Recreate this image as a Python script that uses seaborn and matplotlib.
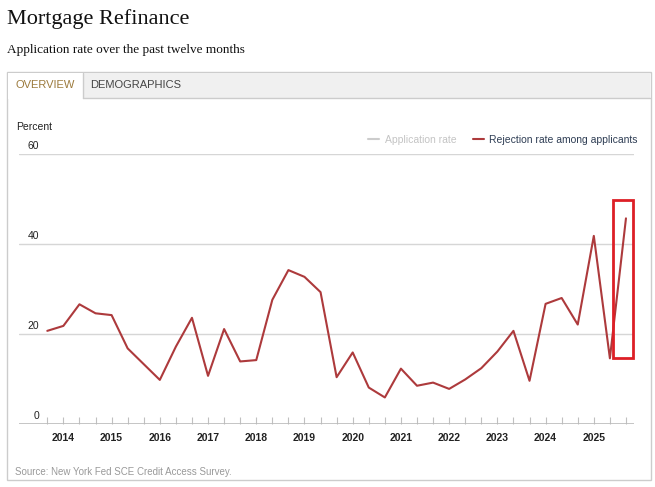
import numpy as np
import pandas as pd
import matplotlib
matplotlib.use('Agg')
import matplotlib.pyplot as plt
import seaborn as sns
from matplotlib.patches import Rectangle
from matplotlib.lines import Line2D

# survey waves every four months, first one Oct 2013
rejection_rate = [20.7, 21.8, 26.6, 24.6, 24.2, 16.8, 13.3, 9.8, 17.2, 23.6,
                  10.7, 21.1, 13.9, 14.2, 27.6, 34.2, 32.7, 29.3, 10.4, 15.9,
                  8.1, 5.9, 12.3, 8.5, 9.2, 7.8, 9.9, 12.4, 16.1, 20.7,
                  9.6, 26.7, 28.0, 22.1, 41.8, 14.6, 45.7]
years = [2014, 2015, 2016, 2017, 2018, 2019, 2020, 2021, 2022, 2023, 2024, 2025]
y_ticks = [0, 20, 40, 60]

df = pd.DataFrame({'wave': np.arange(len(rejection_rate)), 'rate': rejection_rate})

sns.set_theme(style='white')
plt.rcParams['font.family'] = ['Liberation Sans', 'DejaVu Sans']

W, H = 655, 487
fig = plt.figure(figsize=(W / 100, H / 100), dpi=100)

def px(x, y):
    return x / W, 1 - y / H

# page header
fig.text(*px(7, 19.5), 'Mortgage Refinance', family='Liberation Serif', fontsize=16,
         color='#111111', va='center', ha='left')
fig.text(*px(7, 50), 'Application rate over the past twelve months', family='Liberation Serif',
         fontsize=9.5, color='#111111', va='center', ha='left')

# outer frame and tab bar
fig.patches.append(Rectangle(px(7, 480), 644 / W, 408 / H, transform=fig.transFigure,
                             facecolor='white', edgecolor='#cccccc', lw=1, zorder=0))
fig.patches.append(Rectangle(px(8, 98), 642 / W, 25 / H, transform=fig.transFigure,
                             facecolor='#f0f0f0', edgecolor='none', zorder=1))
fig.patches.append(Rectangle(px(8, 99), 75 / W, 26 / H, transform=fig.transFigure,
                             facecolor='white', edgecolor='none', zorder=2))
fig.lines.append(Line2D([83 / W, 83 / W], [1 - 73 / H, 1 - 98 / H], transform=fig.transFigure,
                        color='#cccccc', lw=1, zorder=3))
fig.lines.append(Line2D([83 / W, 650 / W], [1 - 98 / H, 1 - 98 / H], transform=fig.transFigure,
                        color='#cccccc', lw=1, zorder=3))
fig.text(*px(45, 85), 'OVERVIEW', fontsize=8, color='#9c7a3c', ha='center', va='center', zorder=4)
fig.text(*px(136, 85), 'DEMOGRAPHICS', fontsize=8, color='#444444', ha='center', va='center', zorder=4)

fig.text(*px(16, 127), 'Percent', fontsize=7.5, color='#222222', ha='left', va='center', zorder=4)
fig.text(*px(15, 472), 'Source: New York Fed SCE Credit Access Survey.', fontsize=7,
         color='#999999', ha='left', va='center', zorder=4)

# chart area
ax = fig.add_axes([19 / W, (H - 424) / H, 615 / W, 270 / H])
ax.set_zorder(10)
ax.set_facecolor('none')
sns.lineplot(data=df, x='wave', y='rate', ax=ax, color='#ad3a3c', lw=1.5, zorder=5)

ax.set_xlim(-1.76, len(rejection_rate) - 0.5)
ax.set_ylim(0, 60)
for s in ax.spines.values():
    s.set_visible(False)
for v in y_ticks[1:]:
    ax.axhline(v, color='#d6d6d6', lw=1, zorder=1)
ax.axhline(0, color='#bbbbbb', lw=1.2, zorder=2)

ax.set_yticks([])
for v in y_ticks:
    ax.text(-0.52, v + 0.7, str(v), fontsize=7.5, color='#222222', ha='right', va='bottom')

ax.set_xticks(df['wave'])
ax.set_xticklabels([])
ax.tick_params(axis='x', direction='in', length=5, width=0.8, color='#c0c0c0', bottom=True, pad=0)
for i, yr in enumerate(years):
    ax.text(1 + 3 * i, -1.9, str(yr), fontsize=7.5, fontweight='bold', color='#222222',
            ha='center', va='top')
ax.set_xlabel('')
ax.set_ylabel('')

# highlight box around the latest reading
last = len(rejection_rate) - 1
ax.add_patch(Rectangle((last - 0.8, rejection_rate[-2]), 1.25,
                       rejection_rate[-1] + 4 - rejection_rate[-2],
                       facecolor='none', edgecolor='#dd1f26', lw=2, zorder=6, clip_on=False))

handles = [Line2D([], [], color='#cccccc', lw=1.5), Line2D([], [], color='#ad3a3c', lw=1.5)]
leg = ax.legend(handles, ['Application rate', 'Rejection rate among applicants'], ncol=2,
                frameon=False, fontsize=7.5, loc='lower right', bbox_to_anchor=(1.0065, 1.033),
                handlelength=1.1, handletextpad=0.5, columnspacing=1.6, borderaxespad=0,
                borderpad=0)
leg.get_texts()[0].set_color('#c4c4c4')
leg.get_texts()[1].set_color('#2e3d54')

fig.savefig('out.png', dpi=100)
